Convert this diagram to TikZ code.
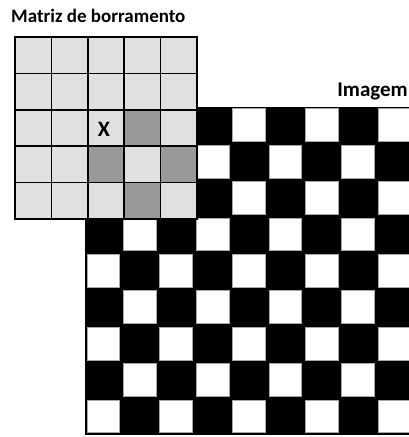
\documentclass[tikz,border=0pt]{standalone}
\usepackage{fontspec}
\setmainfont{Carlito}
\usetikzlibrary{positioning}
\definecolor{blurlight}{gray}{0.88}
\definecolor{blurdark}{gray}{0.6}
\newcommand{\cellsz}{36.4}

\begin{document}
\begin{tikzpicture}[x=1pt, y=1pt,
  blurcell/.style={fill=blurlight, draw=black, line width=1.6pt},
  blurhot/.style={fill=blurdark, draw=black, line width=1.6pt},
  whitesq/.style={fill=white, draw=gray!70, line width=0.6pt},
  label/.style={font=\bfseries\fontsize{20}{22}\selectfont, inner sep=0pt}]

\useasboundingbox (0,0) rectangle (409,437);
\clip (0,0) rectangle (409,437);

% Imagem: tabuleiro xadrez
\fill[black] (85,330) rectangle ++(9*\cellsz,-9*\cellsz);
\foreach \r in {0,...,8}
  \foreach \c in {0,...,8} {
    \pgfmathtruncatemacro{\odd}{mod(\r+\c,2)}
    \ifnum\odd=0
      \draw[whitesq] (85+\c*\cellsz+1.8, 330-\r*\cellsz-1.8)
        rectangle ++(\cellsz-3.6, -\cellsz+3.6);
    \fi
  }

% Matriz de borramento
\foreach \r in {0,...,4}
  \foreach \c in {0,...,4}
    \draw[blurcell] (15+\c*\cellsz, 400-\r*\cellsz) rectangle ++(\cellsz,-\cellsz);
\foreach \r/\c in {2/3, 3/2, 3/4, 4/3}
  \draw[blurhot] (15+\c*\cellsz, 400-\r*\cellsz) rectangle ++(\cellsz,-\cellsz);

\node[label, font=\bfseries\fontsize{22}{24}\selectfont] (xmark) at (104,308) {X};
\node[label, font=\bfseries\fontsize{19}{21}\selectfont, anchor=base west] (titulo) at (11,414) {Matriz de borramento};
\node[label, font=\bfseries\fontsize{21}{23}\selectfont, anchor=base east] (imagem) at (408,340) {Imagem};

\end{tikzpicture}
\end{document}
